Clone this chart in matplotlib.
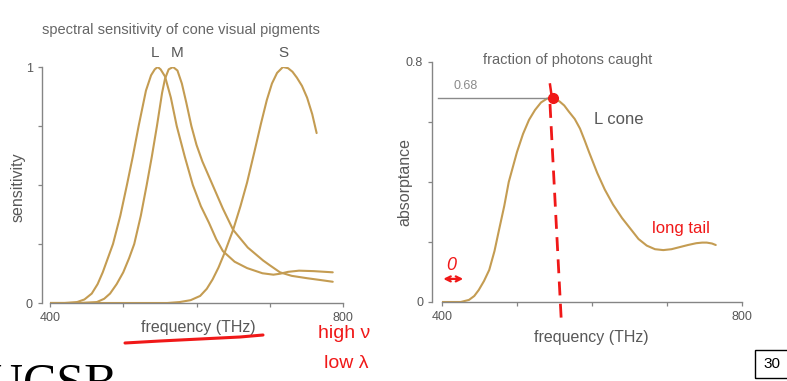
import matplotlib
matplotlib.use("Agg")
import matplotlib.pyplot as plt
from matplotlib.lines import Line2D
from matplotlib.patches import Rectangle
import numpy as np

# ---------------- data ----------------
freq_L = [400, 420, 437, 447, 457, 465, 472, 479, 486, 496, 505, 513, 521, 531, 538, 543, 547, 551, 557,
          565, 573, 584, 595, 606, 617, 627, 636, 652, 669, 690, 705, 714, 725, 740, 760, 786]
sens_L = [0, 0, 0.004, 0.015, 0.04, 0.08, 0.13, 0.19, 0.25, 0.37, 0.5, 0.62, 0.75, 0.9, 0.965, 0.99, 1.0,
          0.99, 0.96, 0.87, 0.75, 0.62, 0.5, 0.41, 0.34, 0.27, 0.22, 0.175, 0.148, 0.126, 0.12, 0.124,
          0.132, 0.137, 0.135, 0.13]

freq_M = [400, 440, 464, 474, 482, 491, 500, 508, 515, 524, 532, 539, 546, 553, 557, 562, 568, 574, 580,
          586, 593, 600, 608, 615, 622, 636, 650, 670, 691, 700, 714, 730, 751, 770, 786]
sens_M = [0, 0, 0.004, 0.018, 0.04, 0.08, 0.13, 0.19, 0.25, 0.37, 0.5, 0.62, 0.75, 0.89, 0.95, 0.99, 1.0,
          0.985, 0.93, 0.85, 0.75, 0.67, 0.6, 0.55, 0.5, 0.4, 0.31, 0.235, 0.18, 0.16, 0.13, 0.115, 0.105,
          0.097, 0.09]

freq_S = [400, 560, 577, 592, 605, 614, 622, 630, 638, 650, 660, 669, 679, 688, 696, 703, 710, 718, 725,
          731, 737, 744, 751, 758, 764]
sens_S = [0, 0, 0.004, 0.012, 0.03, 0.06, 0.1, 0.15, 0.21, 0.31, 0.41, 0.51, 0.64, 0.76, 0.86, 0.93, 0.975,
          1.0, 0.995, 0.98, 0.955, 0.92, 0.87, 0.8, 0.72]

freq_abs = [400, 425, 436, 443, 449, 456, 463, 470, 476, 483, 489, 500, 508, 516, 524, 532, 540, 545, 550,
            557, 563, 569, 577, 584, 590, 596, 607, 617, 628, 640, 651, 662, 673, 684, 695, 706, 717, 728,
            739, 747, 753, 760, 765]
abs_L = [0, 0, 0.007, 0.02, 0.04, 0.07, 0.107, 0.17, 0.24, 0.32, 0.4, 0.5, 0.56, 0.607, 0.64, 0.665, 0.678,
         0.68, 0.678, 0.668, 0.655, 0.635, 0.61, 0.578, 0.54, 0.5, 0.43, 0.375, 0.325, 0.28, 0.245, 0.21,
         0.188, 0.176, 0.173, 0.176, 0.183, 0.19, 0.196, 0.198, 0.198, 0.195, 0.19]

peak_value_label = "0.68"
xticks = [400, 500, 600, 700, 800]
xticklabels = ["400", "", "", "", "800"]
yticks1 = [0, 0.25, 0.5, 0.75, 1.0]
yticklabels1 = ["0", "", "", "", "1"]
yticks2 = [0, 0.2, 0.4, 0.6, 0.8]
yticklabels2 = ["0", "", "", "", "0.8"]

# ---------------- style ----------------
plt.rcParams['font.family'] = ['Liberation Sans', 'DejaVu Sans']
plt.rcParams['lines.scale_dashes'] = False
W, H = 787, 381
CURVE = '#c49c52'
AXC = '#858585'
TXT = '#585858'
RED = '#f01818'

fig = plt.figure(figsize=(W / 100, H / 100), dpi=100)
fig.patch.set_facecolor('white')


def px(x, y):
    """pixel (from top-left) -> figure fraction"""
    return x / W, 1 - y / H


def style_axes(ax, out):
    for s in ['top', 'right']:
        ax.spines[s].set_visible(False)
    for s in ['left', 'bottom']:
        ax.spines[s].set_color(AXC)
        ax.spines[s].set_linewidth(1.0)
    ax.spines['left'].set_position(('outward', out))
    ax.tick_params(colors=AXC, labelcolor=TXT, labelsize=9, length=3, width=0.9, direction='out')
    ax.set_facecolor('none')


# ---------------- left chart ----------------
ax1 = fig.add_axes([50 / W, (H - 303) / H, 293 / W, 236 / H])
style_axes(ax1, 6)
for f, s in [(freq_L, sens_L), (freq_M, sens_M), (freq_S, sens_S)]:
    ax1.plot(f, s, color=CURVE, lw=1.5, solid_joinstyle='round', solid_capstyle='round')
ax1.set_xlim(400, 800)
ax1.set_ylim(0, 1)
ax1.set_xticks(xticks)
ax1.set_xticklabels(xticklabels)
ax1.set_yticks(yticks1)
ax1.set_yticklabels(yticklabels1)
ax1.set_xlabel("frequency (THz)", fontsize=11.5, color=TXT, va='center')
ax1.xaxis.set_label_coords(0.505, -0.102)
ax1.set_ylabel("sensitivity", fontsize=11.5, color=TXT, va='center')
ax1.yaxis.set_label_coords(-0.11, 0.49)
ax1.text(543, 1.06, "L", fontsize=11, color=TXT, ha='center', va='center')
ax1.text(573, 1.06, "M", fontsize=11, color=TXT, ha='center', va='center')
ax1.text(718, 1.06, "S", fontsize=11, color=TXT, ha='center', va='center')
fig.text(*px(181, 30), "spectral sensitivity of cone visual pigments", fontsize=10.5,
         color='#666666', ha='center', va='center')

# ---------------- right chart ----------------
ax2 = fig.add_axes([442 / W, (H - 302) / H, 300 / W, 240 / H])
style_axes(ax2, 7)
ax2.plot(freq_abs, abs_L, color=CURVE, lw=1.5, solid_joinstyle='round', solid_capstyle='round')
ax2.set_xlim(400, 800)
ax2.set_ylim(0, 0.8)
ax2.set_xticks(xticks)
ax2.set_xticklabels(xticklabels)
ax2.set_yticks(yticks2)
ax2.set_yticklabels(yticklabels2)
ax2.set_xlabel("frequency (THz)", fontsize=11.5, color=TXT, va='center')
ax2.xaxis.set_label_coords(0.497, -0.146)
ax2.set_ylabel("absorptance", fontsize=11.5, color=TXT, va='center')
ax2.yaxis.set_label_coords(-0.123, 0.5)
fig.text(*px(568, 60), "fraction of photons caught", fontsize=10.5,
         color='#666666', ha='center', va='center')

ipk = int(np.argmax(abs_L))
pk_f, pk_v = freq_abs[ipk], abs_L[ipk]
ax2.plot([395, pk_f], [pk_v, pk_v], color='#8a8a8a', lw=1.0, clip_on=False)
ax2.text(432, 0.72, peak_value_label, fontsize=9, color='#8a8a8a', ha='center', va='center')
ax2.text(636, 0.61, "L cone", fontsize=12, color=TXT, ha='center', va='center')

# handwritten-style red annotations
ax2.plot([pk_f - 1, pk_f + 1], [pk_v + 0.045, pk_v + 0.01], color=RED, lw=1.8, clip_on=False)
ax2.plot([pk_f - 1, 559], [pk_v - 0.02, -0.06], color=RED, lw=2.0, dashes=(10, 6), clip_on=False)
ax2.plot([pk_f + 3], [pk_v], 'o', color=RED, ms=7, clip_on=False)
ax2.text(718, 0.245, "long tail", fontsize=12, color=RED, ha='center', va='center')
ax2.text(412, 0.12, "0", fontsize=13, color=RED, ha='center', va='center', style='italic')
ax2.annotate("", xy=(398, 0.077), xytext=(432, 0.077), xycoords='data',
             arrowprops=dict(arrowstyle='<->', color=RED, lw=1.6, mutation_scale=9),
             annotation_clip=False)

fig.text(*px(344, 334), "high ν", fontsize=14, color=RED, ha='center', va='center')
fig.text(*px(346, 364), "low λ", fontsize=14, color=RED, ha='center', va='center')
ux = [125, 160, 200, 240, 263]
uy = [343, 341, 339, 337, 335]
fig.add_artist(Line2D([x / W for x in ux], [1 - y / H for y in uy], color=RED, lw=2.2,
                      solid_capstyle='round'))

# slide decorations
fig.text(-13 / W, 1 - 398 / H, "UCSB", fontsize=36, family='Liberation Serif', color='black',
         ha='left', va='baseline')
fig.add_artist(Rectangle(px(755, 378), 40 / W, 28 / H, fill=False, edgecolor='black', lw=1.0))
fig.text(*px(772, 364), "30", fontsize=11, color='black', ha='center', va='center')

fig.savefig("out.png", dpi=100, facecolor='white')
